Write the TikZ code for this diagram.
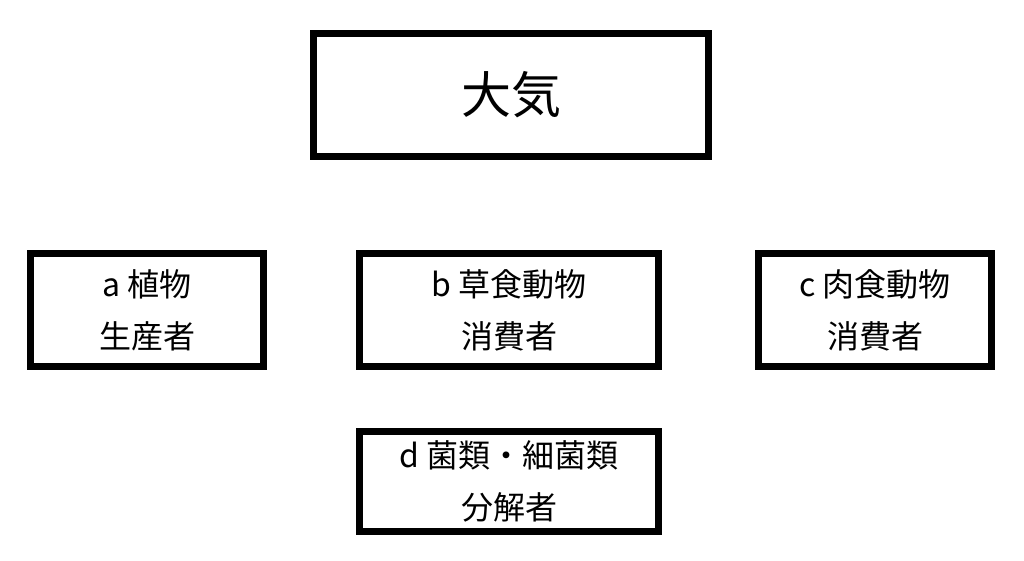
\documentclass[tikz,border=0pt]{standalone}
\usepackage{fontspec}
\setmainfont{Noto Sans CJK JP}
\begin{document}
\begin{tikzpicture}[x=1pt,y=1pt,
  bx/.style={draw=black,line width=7pt,inner sep=0pt,align=center,font=\fontsize{32}{52}\selectfont}]
\useasboundingbox[fill=white] (0,0) rectangle (1024,560);
\node[bx,minimum width=395,minimum height=123,font=\fontsize{50}{60}\selectfont] (air) at (511,465) {大気};
\node[bx,minimum width=233,minimum height=113] (a) at (147,250) {a 植物\\生産者};
\node[bx,minimum width=299,minimum height=113] (b) at (509,250) {b 草食動物\\消費者};
\node[bx,minimum width=233,minimum height=113] (c) at (875,250) {c 肉食動物\\消費者};
\node[bx,minimum width=299,minimum height=100] (d) at (509,79) {d 菌類・細菌類\\分解者};
\end{tikzpicture}
\end{document}
